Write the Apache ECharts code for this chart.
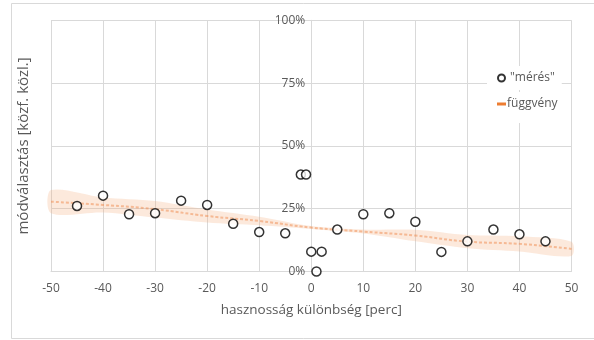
<!DOCTYPE html>
<html>
<head>
<meta charset="utf-8">
<script src="https://cdn.jsdelivr.net/npm/echarts@6/dist/echarts.min.js"></script>
<style>html,body{margin:0;padding:0;background:#fff}#c{width:594px;height:340px}</style>
</head>
<body>
<div id="c"></div>
<script>
// x ticks and y ticks
const xTicks = [-50, -40, -30, -20, -10, 0, 10, 20, 30, 40, 50];
const yTicks = [0, 25, 50, 75, 100];

// "mérés" measured points (x: perc, y: %)
const measX = [-45, -40, -35, -30, -25, -20, -15, -10, -5, -2, -1, 0, 1, 2, 5, 10, 15, 20, 25, 30, 35, 40, 45];
const measY = [26.1, 30.2, 22.8, 23.2, 28.2, 26.5, 19.0, 15.7, 15.2, 38.6, 38.6, 7.9, 0.0, 7.9, 16.7, 22.8, 23.2, 19.8, 7.8, 12.0, 16.7, 14.8, 12.0];

// "függvény" band (x: perc, y: %)
const fnX    = [-50, -40, -30, -20, -10, 0, 10, 20, 30, 40, 50];
const fnMid  = [27.8, 26.5, 24.8, 22.1, 20.1, 17.5, 15.9, 14.3, 11.9, 11.0, 9.0];
const fnLow  = [23.2, 23.5, 21.5, 19.5, 18.4, 16.9, 15.1, 12.0, 9.3, 8.0, 6.2];
const fnHigh = [32.4, 29.5, 28.1, 24.7, 21.8, 18.1, 16.7, 16.6, 14.5, 14.0, 11.8];

const FONT = 'Open Sans';
const TXT = '#595959';
const GRID = '#D9D9D9';

const chart = echarts.init(document.getElementById('c'), null, {renderer: 'canvas'});
chart.setOption({
  animation: false,
  backgroundColor: '#fff',
  textStyle: {fontFamily: FONT},
  graphic: [{
    type: 'rect', z: -10, silent: true,
    shape: {x: 11.5, y: 3.5, width: 640, height: 335},
    style: {fill: 'none', stroke: GRID, lineWidth: 1}
  }],
  grid: {left: 51, right: 22.5, top: 20.3, bottom: 68.5, containLabel: false, outerBoundsMode: 'none'},
  xAxis: {
    type: 'value',
    min: xTicks[0], max: xTicks[xTicks.length - 1], interval: xTicks[1] - xTicks[0],
    name: 'hasznosság különbség [perc]',
    nameLocation: 'middle', nameGap: 32,
    nameTextStyle: {color: TXT, fontSize: 13.5, fontFamily: FONT},
    axisLine: {show: true, onZero: false, lineStyle: {color: GRID, width: 1}},
    axisTick: {show: false},
    axisLabel: {color: TXT, fontSize: 12, fontFamily: FONT, margin: 11},
    splitLine: {show: true, lineStyle: {color: GRID, width: 1}}
  },
  yAxis: {
    type: 'value',
    offset: -260.25,
    min: yTicks[0], max: yTicks[yTicks.length - 1], interval: yTicks[1] - yTicks[0],
    name: 'módválasztás [közf. közl.]',
    nameLocation: 'middle', nameGap: 280,
    nameTextStyle: {color: TXT, fontSize: 15, fontFamily: FONT},
    axisLine: {show: true, onZero: false, lineStyle: {color: GRID, width: 1}},
    axisTick: {show: false},
    axisLabel: {color: TXT, fontSize: 12, fontFamily: FONT, margin: 6, formatter: '{value}%'},
    splitLine: {show: true, lineStyle: {color: GRID, width: 1}}
  },
  legend: [{
    data: [{name: '"mérés"', icon: 'circle'}],
    left: 487, top: 66, orient: 'vertical',
    padding: [6, 7, 6, 10],
    backgroundColor: '#fff',
    itemWidth: 7, itemHeight: 7,
    textStyle: {color: TXT, fontSize: 12, fontFamily: FONT}
  }, {
    data: [{name: 'függvény', icon: 'rect', itemStyle: {color: '#ED7D31'}}],
    left: 487, top: 92, orient: 'vertical',
    padding: [6, 7, 13, 10],
    backgroundColor: '#fff',
    itemWidth: 9, itemHeight: 3,
    textStyle: {color: TXT, fontSize: 12, fontFamily: FONT, padding: [0, 0, 0, -4]}
  }],
  series: [{
    name: 'band', type: 'custom', silent: true, z: 1,
    data: fnX.map((x, i) => [x, fnLow[i], fnHigh[i]]),
    encode: {x: 0, y: [1, 2]},
    renderItem: function (params, api) {
      if (params.dataIndex !== 0) return null;
      const pts = [];
      for (let i = 0; i < fnX.length; i++) pts.push(api.coord([fnX[i], fnHigh[i]]));
      for (let i = fnX.length - 1; i >= 0; i--) pts.push(api.coord([fnX[i], fnLow[i]]));
      return {
        type: 'polygon',
        shape: {points: pts, smooth: 0.3},
        style: {fill: 'rgba(244,177,131,0.28)', stroke: null}
      };
    }
  }, {
    name: 'függvény', type: 'line', smooth: true,
    data: fnX.map((x, i) => [x, fnMid[i]]),
    symbol: 'none', z: 2,
    itemStyle: {color: '#ED7D31'},
    lineStyle: {color: '#F08A4B', width: 2, opacity: 0.5, type: [3, 2]}
  }, {
    name: '"mérés"', type: 'scatter',
    data: measX.map((x, i) => [x, measY[i]]),
    symbol: 'circle', symbolSize: 9, z: 5,
    itemStyle: {color: '#fff', borderColor: '#000', borderWidth: 1.5}
  }]
});
</script>
</body>
</html>
